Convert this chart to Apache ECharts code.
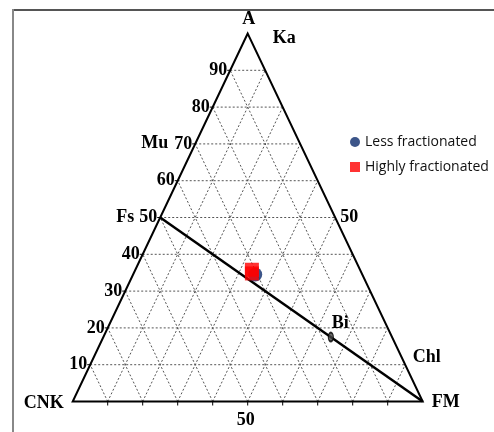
<!DOCTYPE html>
<html>
<head>
<meta charset="utf-8">
<script src="https://cdn.jsdelivr.net/npm/echarts@6/dist/echarts.min.js"></script>
<style>
  html, body { margin: 0; padding: 0; background: #fff; }
  #chart { width: 494px; height: 432px; }
</style>
</head>
<body>
<div id="chart"></div>
<script>
// A–CNK–FM ternary diagram (values in percent: [A, CNK, FM])
const tickLevels = [10, 20, 30, 40, 50, 60, 70, 80, 90];
const lessFractionated = [[34.5, 30.6, 34.9]];
const highlyFractionated = [[35.8, 30.9, 33.3], [34.8, 31.4, 33.8]];
const biotite = [[17.5, 17.5, 65.0]];
const tieLine = [[50, 50, 0], [0, 0, 100]];
const cornerNames = ['A', 'CNK', 'FM'];

// ternary [A, CNK, FM] -> cartesian [x, y] in the unit triangle
function tern(p) {
  const s = p[0] + p[1] + p[2];
  return [(p[2] + p[0] / 2) / s, p[0] / s];
}

// dashed grid: lines of constant A, constant FM, constant CNK
const gridSegments = [];
tickLevels.forEach(function (k) {
  const f = k / 100;
  gridSegments.push([f / 2, f, 1 - f / 2, f]);
  gridSegments.push([f, 0, f + (1 - f) / 2, 1 - f]);
  gridSegments.push([1 - f, 0, (1 - f) / 2, 1 - f]);
});

const SERIF = "'Liberation Serif', 'DejaVu Serif', serif";
const labelStyle = { fontFamily: SERIF, fontWeight: 'bold', fontSize: 18, fill: '#000' };

const chart = echarts.init(document.getElementById('chart'), null, { renderer: 'canvas' });

const option = {
  backgroundColor: '#fff',
  animation: false,
  grid: { left: 72.7, right: 71.3, top: 33.5, bottom: 30.5 },
  xAxis: { type: 'value', min: 0, max: 1, show: false },
  yAxis: { type: 'value', min: 0, max: 1, show: false },
  legend: {
    orient: 'vertical',
    left: 345,
    top: 130,
    itemWidth: 10,
    itemHeight: 10,
    itemGap: 11,
    textStyle: { fontFamily: "'Open Sans', sans-serif", fontSize: 14, color: '#111' },
    data: [
      { name: 'Less fractionated', icon: 'circle' },
      { name: 'Highly fractionated', icon: 'rect' }
    ]
  },
  graphic: [
    { type: 'line', shape: { x1: 13, y1: 10, x2: 494, y2: 10 }, style: { stroke: '#555', lineWidth: 2 } },
    { type: 'line', shape: { x1: 13, y1: 9, x2: 13, y2: 432 }, style: { stroke: '#888', lineWidth: 2 } }
  ],
  series: [
    {
      // dashed grid lines
      type: 'custom',
      silent: true,
      data: gridSegments,
      encode: { x: [0, 2], y: [1, 3] },
      renderItem: function (params, api) {
        const a = api.coord([api.value(0), api.value(1)]);
        const b = api.coord([api.value(2), api.value(3)]);
        return {
          type: 'line',
          shape: { x1: a[0], y1: a[1], x2: b[0], y2: b[1] },
          style: { stroke: '#555', lineWidth: 1, lineDash: [2, 2] }
        };
      },
      z: 1
    },
    {
      // triangle frame, tick marks and tick labels
      type: 'custom',
      silent: true,
      data: [0],
      renderItem: function (params, api) {
        const top = api.coord(tern([100, 0, 0]));
        const left = api.coord(tern([0, 100, 0]));
        const right = api.coord(tern([0, 0, 100]));
        const children = [{
          type: 'polygon',
          shape: { points: [top, left, right] },
          style: { fill: 'none', stroke: '#000', lineWidth: 2 }
        }];
        tickLevels.forEach(function (k) {
          const pl = api.coord(tern([k, 100 - k, 0]));
          children.push({ type: 'line', shape: { x1: pl[0] - 3, y1: pl[1], x2: pl[0], y2: pl[1] },
            style: { stroke: '#000', lineWidth: 1 } });
          children.push({ type: 'text', x: pl[0] - 3, y: pl[1],
            style: Object.assign({ text: String(k), align: 'right', verticalAlign: 'middle' }, labelStyle) });
          const pb = api.coord(tern([0, 100 - k, k]));
          children.push({ type: 'line', shape: { x1: pb[0], y1: pb[1], x2: pb[0], y2: pb[1] + 4 },
            style: { stroke: '#000', lineWidth: 1 } });
        });
        // bottom and right mid-edge labels
        const pb50 = api.coord(tern([0, 50, 50]));
        children.push({ type: 'text', x: pb50[0] - 2, y: pb50[1] + 19,
          style: Object.assign({ text: '50', align: 'center', verticalAlign: 'middle' }, labelStyle) });
        const pr50 = api.coord(tern([50, 0, 50]));
        children.push({ type: 'text', x: pr50[0] + 5, y: pr50[1],
          style: Object.assign({ text: '50', align: 'left', verticalAlign: 'middle' }, labelStyle) });
        // corner names
        children.push({ type: 'text', x: top[0] + 1, y: top[1] - 14,
          style: Object.assign({ text: cornerNames[0], align: 'center', verticalAlign: 'middle' }, labelStyle) });
        children.push({ type: 'text', x: left[0] - 9, y: left[1] + 2,
          style: Object.assign({ text: cornerNames[1], align: 'right', verticalAlign: 'middle' }, labelStyle) });
        children.push({ type: 'text', x: right[0] + 9, y: right[1] + 1,
          style: Object.assign({ text: cornerNames[2], align: 'left', verticalAlign: 'middle' }, labelStyle) });
        // mineral names
        children.push({ type: 'text', x: top[0] + 25, y: top[1] + 5,
          style: Object.assign({ text: 'Ka', align: 'left', verticalAlign: 'middle' }, labelStyle) });
        const p70 = api.coord(tern([70, 30, 0]));
        children.push({ type: 'text', x: p70[0] - 27, y: p70[1] - 1,
          style: Object.assign({ text: 'Mu', align: 'right', verticalAlign: 'middle' }, labelStyle) });
        const p50 = api.coord(tern([50, 50, 0]));
        children.push({ type: 'text', x: p50[0] - 26, y: p50[1],
          style: Object.assign({ text: 'Fs', align: 'right', verticalAlign: 'middle' }, labelStyle) });
        const pchl = api.coord(tern([12, 0, 88]));
        children.push({ type: 'text', x: pchl[0] + 11, y: pchl[1],
          style: Object.assign({ text: 'Chl', align: 'left', verticalAlign: 'middle' }, labelStyle) });
        const pbi = api.coord(tern(biotite[0]));
        children.push({ type: 'text', x: pbi[0] + 1, y: pbi[1] - 14,
          style: Object.assign({ text: 'Bi', align: 'left', verticalAlign: 'middle' }, labelStyle) });
        return { type: 'group', children: children };
      },
      z: 2
    },
    {
      name: 'tie line',
      type: 'line',
      data: tieLine.map(tern),
      symbol: 'none',
      lineStyle: { color: '#000', width: 2.5 },
      silent: true,
      z: 3
    },
    {
      name: 'Bi',
      type: 'scatter',
      data: biotite.map(tern),
      symbol: 'circle',
      symbolSize: [5, 9],
      itemStyle: { color: '#444', borderColor: '#000', borderWidth: 1.5 },
      z: 4
    },
    {
      name: 'Less fractionated',
      type: 'scatter',
      data: lessFractionated.map(tern),
      symbol: 'circle',
      symbolSize: 14,
      itemStyle: { color: '#0b2a6b' },
      z: 5
    },
    {
      name: 'Highly fractionated',
      type: 'scatter',
      data: highlyFractionated.map(tern),
      symbol: 'rect',
      symbolSize: 14,
      itemStyle: { color: '#ff0000' },
      z: 6
    }
  ]
};

chart.setOption(option);
</script>
</body>
</html>
